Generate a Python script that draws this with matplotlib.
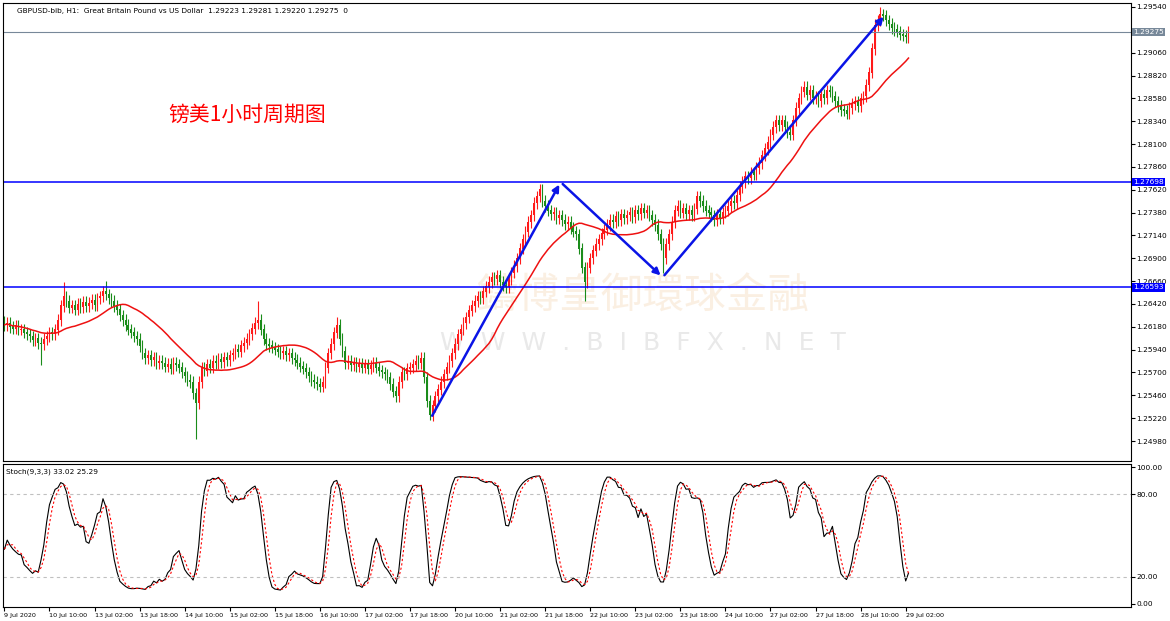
import numpy as np
import matplotlib
matplotlib.use("Agg")
import matplotlib.pyplot as plt

# closes in 1e-4 units above 1.2000
closes_pips = [
620,622,618,616,619,615,615, 612,610,608,604,606,601,600, 605,608,612,610,615, 625,640,650,
645,638,640, 636,642,639,644,640, 643,646,641,648,650,655,652, 648,645,640,636,630,625,
620,615,612,608,605, 598,590,585, 588,583,586,580,582,580, 576,579,574,580,578,
575,570,566,562,560, 548,538,560,575, 572,578,575,582,580, 584,581,586,583,588,590,
594,592,598,601,605, 610,616,622,625, 615,605,600, 598,596,594,592,590,
592,588,590,585,583,580, 576,574,570, 566,562,560,558,555, 560,575,590,600, 612,620,
605,592,580, 582,578,580,576,579,575, 578,574,577,580,575, 572,570,568,565, 558,550,545,
560,570, 568,574,575, 578,582,580,585, 565,540,525, 535,545,552,560, 568,575,582,590,600,
610,615,622,628,635,640, 645,650,648,655,660,665,670, 668,672,665,662,660,
668,675,682,690,700, 710,718,728,735, 748,755, 762,750,745,740, 736,738,732,735,730,
726,728,722,718,715, 700,680,665, 680,690,698,705, 710,716,720,725,730,
728,734,730,736,732,735, 738,733,740,736,742,738,740, 735,730,725, 715,705,690,
705,715,728,740, 745,738,742,736,740,735, 742,755,750, 745,740,738,735,
730,736,732,738,740, 745,750,748,756,765, 770,776,774,780,778,785,
790,798,805,812,820, 828,835,830,835, 828,822,820, 835,848,858,865,
870,862,866,858,860, 855,862,858,866,865, 860,855,850,846,845, 842,848,852,855,
850,858,860, 872,885, 910,935, 940,946,945, 940,936,932,930, 928,925,924,922,928]
wick_pips = 6
extreme_highs = {21: 665, 36: 666, 90: 645, 118: 628, 190: 768, 311: 954}
extreme_lows = {13: 578, 68: 500, 151: 520, 206: 645, 234: 675}
tick_labels = ["9 Jul 2020", "10 Jul 10:00", "13 Jul 02:00", "13 Jul 18:00", "14 Jul 10:00",
               "15 Jul 02:00", "15 Jul 18:00", "16 Jul 10:00", "17 Jul 02:00", "17 Jul 18:00",
               "20 Jul 10:00", "21 Jul 02:00", "21 Jul 18:00", "22 Jul 10:00", "23 Jul 02:00",
               "23 Jul 18:00", "24 Jul 10:00", "27 Jul 02:00", "27 Jul 18:00", "28 Jul 10:00",
               "29 Jul 02:00"]
price_ticks = [1.29540, 1.29060, 1.28820, 1.28580, 1.28340, 1.28100, 1.27860, 1.27620, 1.27380,
               1.27140, 1.26900, 1.26660, 1.26420, 1.26180, 1.25940, 1.25700, 1.25460, 1.25220, 1.24980]
level_hi, level_lo, last_price = 1.27698, 1.26593, 1.29275
arrow_pts = [(151.4, 1.2522), (197.5, 1.2770), (233.7, 1.2670), (312.8, 1.2946)]

c = 1.2 + np.array(closes_pips) / 10000.0
n = len(c)
o = np.concatenate([[c[0] + 0.0003], c[:-1]])
h = np.maximum(o, c) + wick_pips / 10000.0
l = np.minimum(o, c) - wick_pips / 10000.0
for k, v in extreme_highs.items():
    if k < n: h[k] = 1.2 + v / 10000.0
for k, v in extreme_lows.items():
    if k < n: l[k] = 1.2 + v / 10000.0
x = np.arange(n)

ma_p = 24
ma = np.array([c[max(0, i - ma_p + 1):i + 1].mean() for i in range(n)])
K = 9
rawk = np.array([(c[i] - l[max(0, i-K+1):i+1].min()) / max(1e-9, h[max(0, i-K+1):i+1].max() - l[max(0, i-K+1):i+1].min()) * 100 for i in range(n)])
def sma(a, p): return np.array([a[max(0, i-p+1):i+1].mean() for i in range(len(a))])
main = sma(rawk, 3); sig = sma(main, 3)

plt.rcParams['font.family'] = ['DejaVu Sans']
W, H = 1170, 621
fig = plt.figure(figsize=(W/100, H/100), dpi=100)
L, R = 3/W, 1131/W
ax = fig.add_axes([L, 1-461/H, R-L, (461-3)/H])
ax2 = fig.add_axes([L, 1-607/H, R-L, (607-464)/H])
xmax = 1128/2.82
for a in (ax, ax2):
    a.set_xlim(-0.5, xmax)
    a.yaxis.tick_right()
    a.tick_params(axis='y', labelsize=5.3, length=3, pad=1)
    for s in a.spines.values(): s.set_linewidth(0.8)

up = c >= o
col = np.where(up, '#ff1a1a', '#1a8c1a')
ax.vlines(x, l, h, colors=col, linewidth=0.8)
ax.bar(x, np.abs(c - o) + 0.00004, bottom=np.minimum(o, c), width=0.6, color=col, linewidth=0)
ax.plot(x, ma, color='#ee1111', lw=1.1)
ax.set_ylim(1.24770, 1.29582)
ax.set_yticks(price_ticks)
ax.set_yticklabels([f"{v:.5f}" for v in price_ticks])
ax.set_xticks([])
for lv in (level_hi, level_lo):
    ax.axhline(lv, color='#0000ff', lw=1.1)
    ax.text(1.002, lv, f"{lv:.5f}", transform=ax.get_yaxis_transform(), va='center', ha='left',
            fontsize=5.3, color='white', bbox=dict(boxstyle='square,pad=0.15', fc='#0000ff', ec='none'))
ax.axhline(last_price, color='#778899', lw=0.8)
ax.text(1.002, last_price, f"{last_price:.5f}", transform=ax.get_yaxis_transform(), va='center', ha='left',
        fontsize=5.3, color='white', bbox=dict(boxstyle='square,pad=0.15', fc='#778899', ec='none'))
for (x0, y0), (x1, y1) in zip(arrow_pts[:-1], arrow_pts[1:]):
    ax.annotate('', xy=(x1, y1), xytext=(x0, y0),
                arrowprops=dict(arrowstyle='-|>', color='#0a14e6', lw=1.8, mutation_scale=10))
ax.text(0.012, 0.99, "GBPUSD-bib, H1:  Great Britain Pound vs US Dollar  1.29223 1.29281 1.29220 1.29275  0",
        transform=ax.transAxes, fontsize=5.3, va='top')
ax.text(165/1128, 1-(115-3)/458, "镑美1小时周期图", transform=ax.transAxes, fontsize=15, color='#ff0000',
        va='center', family=['Noto Sans CJK SC', 'DejaVu Sans'])
ax.text(640/1128, 1-(297-3)/458, "鑄博皇御環球金融", transform=ax.transAxes, fontsize=30, color='#f0c89a',
        alpha=0.28, ha='center', va='center', family=['Noto Sans CJK TC', 'DejaVu Sans'], zorder=0)
ax.text(640/1128, 1-(343-3)/458, "W  W  W  .  B  I  B  F  X  .  N  E  T", transform=ax.transAxes,
        fontsize=18, color='#c8c8c8', alpha=0.4, ha='center', va='center', zorder=0)

ax2.plot(x, main, color='black', lw=0.8)
ax2.plot(x, sig, color='red', lw=0.8, ls=(0, (2, 2)))
ax2.set_ylim(-2.2, 102.2)
ax2.set_yticks([0, 20, 80, 100])
ax2.set_yticklabels(["0.00", "20.00", "80.00", "100.00"])
for lv in (20, 80):
    ax2.axhline(lv, color='#c0c0c0', lw=0.8, ls=(0, (3, 3)))
ax2.text(0.003, 0.97, "Stoch(9,3,3) 33.02 25.29", transform=ax2.transAxes, fontsize=5.3, va='top')
ax2.set_xticks(np.arange(len(tick_labels)) * 16)
ax2.set_xticklabels(tick_labels, fontsize=4.6, ha='left')
ax2.tick_params(axis='x', length=3, pad=1)

fig.savefig("out.png", dpi=100)
